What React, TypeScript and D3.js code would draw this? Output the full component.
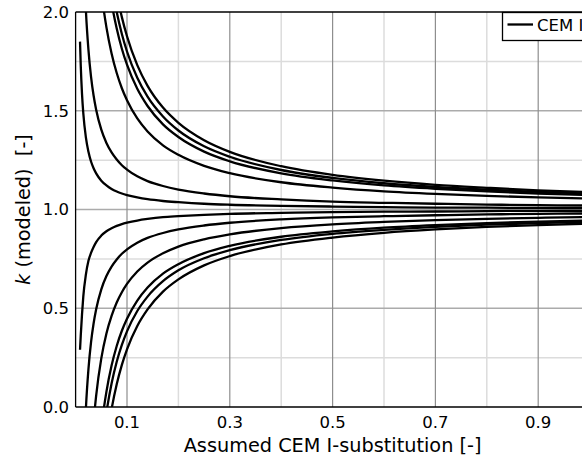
import * as d3 from "d3";

// sampled substitution levels (x) shared by all curves
const xs = [0.0086, 0.01, 0.0125, 0.015, 0.02, 0.025, 0.03, 0.035, 0.04, 0.05, 0.06, 0.07, 0.08, 0.09, 0.1,
  0.12, 0.14, 0.17, 0.2, 0.25, 0.3, 0.4, 0.5, 0.6, 0.7, 0.8, 0.9, 1.0];

// curves above k = 1 (null = not drawn)
const up1 = [1.85, 1.73, 1.584, 1.487, 1.365, 1.292, 1.243, 1.209, 1.183, 1.146, 1.122, 1.104, 1.091, 1.081, 1.073,
  1.061, 1.052, 1.043, 1.037, 1.029, 1.024, 1.018, 1.015, 1.012, 1.010, 1.009, 1.008, 1.007];
const up2 = [null, null, null, 2.35, 2.01, 1.808, 1.673, 1.577, 1.505, 1.404, 1.337, 1.289, 1.253, 1.224, 1.202,
  1.168, 1.144, 1.119, 1.101, 1.081, 1.067, 1.051, 1.040, 1.034, 1.029, 1.025, 1.022, 1.020];
const up3 = [null, null, null, null, null, null, null, null, 2.38, 2.106, 1.922, 1.79, 1.691, 1.614, 1.553,
  1.461, 1.395, 1.325, 1.277, 1.221, 1.184, 1.138, 1.111, 1.092, 1.079, 1.069, 1.061, 1.055];
const up4 = [null, null, null, null, null, null, null, null, null, 2.466, 2.222, 2.047, 1.916, 1.814, 1.733,
  1.611, 1.524, 1.431, 1.367, 1.293, 1.244, 1.183, 1.147, 1.122, 1.105, 1.092, 1.081, 1.073];
const up5 = [null, null, null, null, null, null, null, null, null, null, 2.333, 2.143, 2.0, 1.889, 1.8,
  1.667, 1.571, 1.471, 1.4, 1.32, 1.267, 1.2, 1.16, 1.133, 1.114, 1.1, 1.089, 1.08];
const up6 = [null, null, null, null, null, null, null, null, null, null, null, 2.253, 2.096, 1.974, 1.877,
  1.731, 1.626, 1.516, 1.439, 1.351, 1.292, 1.219, 1.175, 1.146, 1.125, 1.110, 1.097, 1.088];

// curves below k = 1
const lo1 = [0.29, 0.36, 0.47, 0.56, 0.67, 0.74, 0.78, 0.81, 0.835, 0.868, 0.89, 0.905, 0.917, 0.926, 0.933,
  0.944, 0.952, 0.961, 0.966, 0.973, 0.978, 0.983, 0.987, 0.989, 0.990, 0.992, 0.993, 0.993];
const lo2 = [null, null, null, -0.35, -0.01, 0.192, 0.327, 0.423, 0.495, 0.596, 0.663, 0.711, 0.747, 0.776, 0.798,
  0.832, 0.856, 0.881, 0.899, 0.919, 0.933, 0.950, 0.960, 0.966, 0.971, 0.975, 0.978, 0.980];
const lo3 = [null, null, null, null, null, null, -0.257, -0.077, 0.058, 0.246, 0.372, 0.461, 0.529, 0.581, 0.623,
  0.686, 0.731, 0.778, 0.812, 0.849, 0.874, 0.906, 0.925, 0.937, 0.946, 0.953, 0.958, 0.962];
const lo4 = [null, null, null, null, null, null, null, null, -0.383, -0.106, 0.078, 0.21, 0.309, 0.386, 0.447,
  0.539, 0.605, 0.675, 0.723, 0.779, 0.816, 0.862, 0.889, 0.908, 0.921, 0.931, 0.939, 0.945];
const lo5 = [null, null, null, null, null, null, null, null, null, -0.234, -0.028, 0.119, 0.229, 0.314, 0.383,
  0.486, 0.559, 0.637, 0.692, 0.753, 0.794, 0.846, 0.877, 0.897, 0.912, 0.923, 0.931, 0.938];
const lo6 = [null, null, null, null, null, null, null, null, null, null, -0.18, -0.011, 0.115, 0.213, 0.292,
  0.41, 0.494, 0.584, 0.646, 0.717, 0.764, 0.823, 0.858, 0.882, 0.899, 0.912, 0.921, 0.929];

const series = [up1, up2, up3, up4, up5, up6, lo1, lo2, lo3, lo4, lo5, lo6];

const xTicks = [0.1, 0.3, 0.5, 0.7, 0.9];
const xMinor = [0.2, 0.4, 0.6, 0.8];
const yTicks = [0.0, 0.5, 1.0, 1.5, 2.0];
const yMinor = [0.25, 0.75, 1.25, 1.75];
const legendLabel = "CEM I";

export default function App() {
  const width = 582, height = 461;
  const left = 75.6, right = 589.6, top = 12, bottom = 407;
  const font = "DejaVu Sans, sans-serif";

  const x = d3.scaleLinear([0, 1], [left, right]);
  const y = d3.scaleLinear([0, 2], [bottom, top]);
  const line = d3.line<number>()
    .defined((d) => d != null)
    .x((d, i) => x(xs[i]))
    .y((d) => y(d))
    .curve(d3.curveMonotoneX);

  return (
    <svg width={width} height={height} style={{position: "absolute", left: 0, top: 0, background: "#fff"}}
      fontFamily={font}>
      <defs>
        <clipPath id="plot">
          <rect x={left} y={top} width={right - left} height={bottom - top} />
        </clipPath>
      </defs>
      <rect x={0} y={0} width={width} height={height} fill="#fff" />
      {/* grid */}
      <g>
        {xMinor.map((t) => <line key={"xm" + t} x1={x(t)} x2={x(t)} y1={top} y2={bottom} stroke="#dcdcdc" strokeWidth={1.5} />)}
        {yMinor.map((t) => <line key={"ym" + t} x1={left} x2={right} y1={y(t)} y2={y(t)} stroke="#dcdcdc" strokeWidth={1.5} />)}
        {yTicks.slice(1, 4).map((t) => <line key={"yg" + t} x1={left} x2={right} y1={y(t)} y2={y(t)} stroke="#ababab" strokeWidth={1.5} />)}
        {xTicks.map((t) => <line key={"xg" + t} x1={x(t)} x2={x(t)} y1={top} y2={bottom} stroke="#8e8e8e" strokeWidth={1.2} />)}
      </g>
      {/* curves */}
      <g clipPath="url(#plot)" fill="none" stroke="#000" strokeWidth={2.3}>
        {series.map((s, i) => <path key={i} d={line(s as number[]) || ""} />)}
      </g>
      {/* spines */}
      <g stroke="#000" strokeWidth={1.3} fill="none">
        <line x1={left} x2={left} y1={top} y2={bottom} />
        <line x1={left} x2={right} y1={top} y2={top} />
        <line x1={left} x2={right} y1={bottom} y2={bottom} />
        <line x1={right} x2={right} y1={top} y2={bottom} />
      </g>
      {/* tick labels */}
      <g fontSize={16.5} fill="#000">
        {xTicks.map((t) => <text key={"xt" + t} x={x(t)} y={428} textAnchor="middle">{d3.format(".1f")(t)}</text>)}
        {yTicks.map((t) => <text key={"yt" + t} x={69} y={y(t)} dy="0.36em" textAnchor="end">{d3.format(".1f")(t)}</text>)}
      </g>
      {/* axis labels */}
      <text x={(left + right) / 2} y={452} textAnchor="middle" fontSize={19.3}>Assumed CEM I-substitution [-]</text>
      <text transform={`translate(30,${(top + bottom) / 2}) rotate(-90)`} textAnchor="middle" fontSize={19.3}
        style={{whiteSpace: "pre"}}>
        <tspan fontStyle="italic">k</tspan>{" (modeled)  [-]"}
      </text>
      {/* legend */}
      <g>
        <rect x={502.5} y={12.5} width={110} height={28} fill="#fff" stroke="#000" strokeWidth={1.3} />
        <line x1={507.5} x2={533} y1={24.5} y2={24.5} stroke="#000" strokeWidth={2.3} />
        <text x={537} y={31} fontSize={16.5}>{legendLabel}</text>
      </g>
    </svg>
  );
}
